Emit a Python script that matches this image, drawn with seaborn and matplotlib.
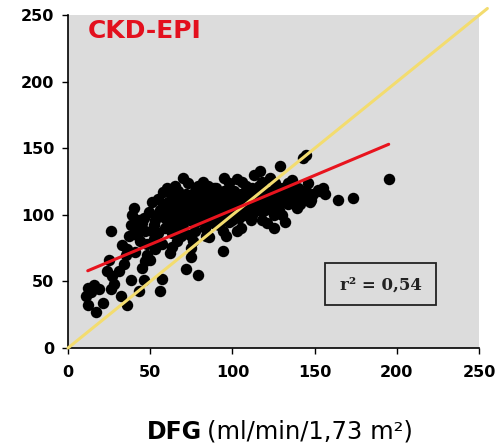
import matplotlib
matplotlib.use("Agg")
import matplotlib.pyplot as plt
import seaborn as sns
import pandas as pd
from matplotlib.patches import Rectangle

dfg_x = [12, 16, 11, 12, 17, 21, 14, 19,
         26, 27, 25, 26, 24, 28,
         32, 36, 38, 34, 33, 37, 39, 31, 35, 38, 36,
         43, 46, 45, 41, 40, 46, 44, 48, 42, 47, 45, 49, 43, 48, 41, 47,
         50, 56, 57, 55, 52, 54, 58, 51, 53, 56, 59, 57, 52, 58, 55, 53, 59, 51,
         62, 60, 64, 66, 68, 61, 63, 67, 69, 65, 62, 66, 70, 64, 68, 61, 67, 69, 63, 65,
         72, 79, 75, 75, 71, 73, 77, 79, 70, 74, 76, 78, 72, 74, 78, 76, 71, 79, 73, 77,
         82, 84, 86, 88, 81, 83, 85, 87, 89, 80, 84, 86, 88, 82, 85, 89, 81, 87,
         94, 92, 95, 98, 91, 93, 96, 99, 90, 97, 94, 92, 98, 95, 91, 99, 96,
         103, 101, 104, 106, 108, 100, 102, 105, 107, 109, 103, 106, 100, 104,
         112, 114, 116, 118, 111, 113, 117, 115, 119, 110, 112, 118, 116,
         121, 125, 122, 124, 126, 128, 120, 127, 129, 123, 125, 121, 128,
         131, 133, 135, 137, 139, 130, 134, 136, 138, 132,
         145, 143, 145, 149, 152, 148, 142, 146, 141, 140, 147, 153,
         156, 164, 173, 195, 155,
         57, 60, 63, 66, 69, 72, 75, 78, 81, 84, 87, 90, 93, 96, 99, 102,
         105, 108, 111, 114, 117, 120, 123, 126, 129, 132,
         62, 65, 68, 71, 74, 77, 80, 83, 86, 89, 92, 95, 98, 101, 104, 107,
         110, 113, 116, 119, 122, 125, 128, 131, 134, 140, 143, 138]
ckdepi_y = [45, 47, 39, 32, 27, 34, 42, 44,
            44, 54, 66, 88, 58, 48,
            39, 32, 51, 63, 77, 84, 100, 58, 70, 92, 74,
            43, 51, 60, 90, 105, 98, 80, 70, 85, 88, 94, 102, 96, 78, 72, 65,
            66, 43, 52, 86, 92, 100, 117, 110, 96, 104, 90, 78, 82, 108, 112, 74, 98, 88,
            71, 120, 112, 105, 98, 94, 86, 90, 115, 122, 102, 80, 128, 96, 108, 110, 118, 84, 76, 92,
            59, 55, 68, 75, 100, 110, 118, 122, 90, 96, 104, 112, 116, 85, 95, 80, 106, 100, 124, 88,
            125, 118, 110, 102, 96, 90, 100, 114, 120, 106, 84, 83, 94, 108, 122, 108, 116, 98,
            73, 110, 118, 124, 104, 96, 100, 112, 120, 106, 88, 92, 95, 128, 114, 104, 84,
            127, 118, 110, 100, 122, 96, 104, 90, 114, 106, 88, 125, 112, 98,
            120, 112, 104, 125, 96, 130, 133, 118, 110, 106, 100, 96, 122,
            94, 90, 110, 118, 124, 112, 104, 106, 137, 128, 100, 116, 120,
            110, 118, 114, 122, 105, 100, 108, 126, 112, 95,
            145, 143, 118, 116, 119, 111, 114, 124, 108, 120, 110, 118,
            116, 111, 113, 127, 120,
            100, 106, 114, 110, 104, 106, 114, 106, 112, 104, 106, 110, 116, 112, 118, 112,
            116, 110, 114, 118, 114, 118, 114, 116, 110, 114,
            96, 100, 92, 96, 102, 98, 100, 108, 96, 100, 104, 108, 100, 106, 104, 100,
            112, 108, 110, 104, 106, 108, 104, 120, 124, 112, 118, 118]

# regression line and identity line
fit_x = [12, 195]
fit_y = [58, 153]
ref_x = [0, 255]
ref_y = [0, 255]

xticks = [0, 50, 100, 150, 200, 250]
yticks = [0, 50, 100, 150, 200, 250]

df = pd.DataFrame({"dfg": dfg_x, "ckd": ckdepi_y})

sns.set_style("ticks")
plt.rcParams["font.family"] = ["DejaVu Sans"]
plt.rcParams["text.color"] = "black"

fig = plt.figure(figsize=(5.02, 4.45), dpi=100)
ax = fig.add_axes([0.1355, 0.218, 0.819, 0.748])
ax.set_facecolor("#dcdcdc")

sns.scatterplot(data=df, x="dfg", y="ckd", color="black", s=68,
                linewidth=0, ax=ax, zorder=2)
ax.plot(ref_x, ref_y, color="#f3dc6f", lw=2.2, zorder=3, clip_on=False)
ax.plot(fit_x, fit_y, color="#e8141e", lw=2.2, zorder=4)

ax.set_xlim(0, 250)
ax.set_ylim(0, 250)
ax.set_xticks(xticks)
ax.set_yticks(yticks)
ax.set_xticklabels([str(t) for t in xticks], fontweight="bold", fontsize=11.5)
ax.set_yticklabels([str(t) for t in yticks], fontweight="bold", fontsize=11.5)
ax.tick_params(length=4, width=1, pad=8, colors="black")
ax.tick_params(axis="y", pad=6)
ax.set_xlabel("")
ax.set_ylabel("")

for side in ["top", "right"]:
    ax.spines[side].set_visible(False)
for side in ["left", "bottom"]:
    ax.spines[side].set_color("black")
    ax.spines[side].set_linewidth(1.2)

ax.text(0.049, 0.952, "CKD-EPI", transform=ax.transAxes, color="#e3101e",
        fontsize=18, fontweight="bold", va="center", ha="left")

ax.add_patch(Rectangle((0.625, 0.129), 0.27, 0.126, transform=ax.transAxes,
                       facecolor="none", edgecolor="#222222", lw=1.3, zorder=5))
ax.text(0.76, 0.19, "r² = 0,54", transform=ax.transAxes, ha="center",
        va="center", fontsize=12, fontweight="bold",
        family=["DejaVu Serif"], color="#222222", zorder=6)

fig.text(147 / 502, 0.0135, "DFG", fontsize=17, fontweight="bold",
         ha="left", va="baseline", color="black")
fig.text(207 / 502, 0.0135, "(ml/min/1,73 m²)", fontsize=17.5, ha="left",
         va="baseline", color="black")

fig.savefig("out.png", dpi=100)
